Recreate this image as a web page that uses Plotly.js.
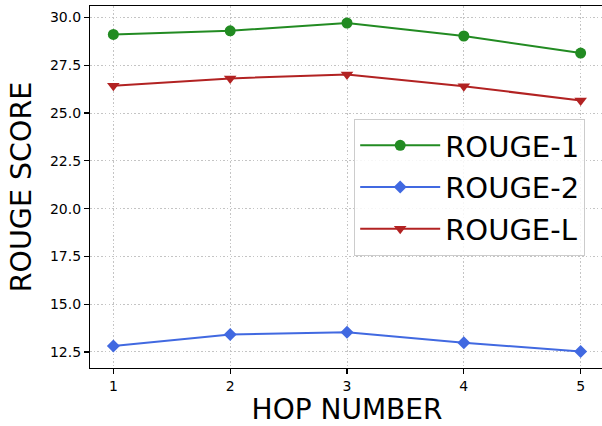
<!DOCTYPE html>
<html>
<head>
<meta charset="utf-8">
<script src="https://cdn.plot.ly/plotly-3.0.1.min.js"></script>
<style>html,body{margin:0;padding:0;overflow:hidden;background:#fff;}</style>
</head>
<body>
<div id="chart" style="width:604px;height:426px;"></div>
<script>
const hops = [1, 2, 3, 4, 5];
const rouge1 = [29.11, 29.30, 29.71, 29.03, 28.14];
const rouge2 = [12.81, 13.41, 13.53, 12.98, 12.52];
const rougeL = [26.43, 26.81, 27.02, 26.40, 25.66];
const seriesNames = ['ROUGE-1', 'ROUGE-2', 'ROUGE-L'];
const yTickVals = [12.5, 15.0, 17.5, 20.0, 22.5, 25.0, 27.5, 30.0];

const font = 'DejaVu Sans, sans-serif';
function trace(y, name, color, symbol, size) {
  return {
    x: hops, y: y, name: name, legendgroup: name, type: 'scatter', mode: 'lines+markers',
    line: {color: color, width: 2},
    marker: {color: color, symbol: symbol, size: size}
  };
}
const data = [
  trace(rouge1, seriesNames[0], '#228B22', 'circle', 11),
  trace(rouge2, seriesNames[1], '#4169E1', 'diamond', 10),
  trace(rougeL, seriesNames[2], '#B22222', 'triangle-down', 11)
];
const axisCommon = {
  showline: true, linecolor: '#000', linewidth: 1.1, mirror: true,
  ticks: 'outside', ticklen: 5, tickwidth: 1.1, tickcolor: '#000',
  showgrid: true, gridcolor: '#c4c4c4', griddash: '1.5px,2.2px', gridwidth: 1,
  zeroline: false,
  tickfont: {family: font, size: 14, color: '#000'}
};
const layout = {
  width: 604, height: 426,
  margin: {l: 90, r: 0, t: 6, b: 58},
  paper_bgcolor: '#fff', plot_bgcolor: '#fff',
  font: {family: font, color: '#000'},
  xaxis: Object.assign({}, axisCommon, {
    range: [0.8, 5.2], tickvals: hops, ticktext: hops.map(String),
    title: {text: 'HOP NUMBER', font: {family: font, size: 28, color: '#000'}, standoff: 8}
  }),
  yaxis: Object.assign({}, axisCommon, {
    range: [11.66, 30.6], tickvals: yTickVals, ticktext: yTickVals.map(v => v.toFixed(1)),
    title: {text: 'ROUGE SCORE', font: {family: font, size: 28.5, color: '#000'}, standoff: 10}
  }),
  showlegend: true,
  legend: {
    x: 0.514, y: 0.688, xanchor: 'left', yanchor: 'top',
    bgcolor: 'rgba(255,255,255,0.85)', bordercolor: '#cccccc', borderwidth: 1,
    font: {family: font, size: 29, color: '#000'},
    itemwidth: 80, tracegroupgap: 1, traceorder: 'grouped',
    entrywidth: 236
  }
};
Plotly.newPlot('chart', data, layout, {displayModeBar: false, staticPlot: true});
</script>
</body>
</html>
